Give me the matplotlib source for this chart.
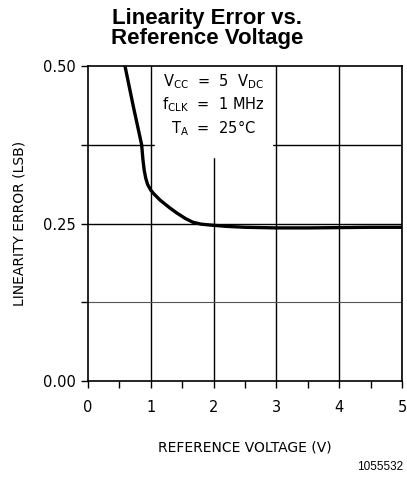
#Linearity error vs reference voltage
import numpy as np
import matplotlib.pyplot as plt

#data
vref = [0.59, 0.72, 0.855, 0.875, 0.895, 0.92, 0.95, 1.0, 1.05, 1.15, 1.3, 1.41, 1.55, 1.67, 1.8, 1.94, 2.2, 2.5, 3.0, 3.5, 4.0, 4.5, 5.0]
lin_err = [0.50, 0.437, 0.375, 0.352, 0.335, 0.322, 0.312, 0.303, 0.297, 0.287, 0.275, 0.267, 0.258, 0.252, 0.249, 0.2476, 0.2455, 0.244, 0.243, 0.243, 0.2435, 0.244, 0.244]

x_ticks = [0, 1, 2, 3, 4, 5]
y_ticks = [0.0, 0.25, 0.5]
y_labels = ['0.00', '0.25', '0.50']
conditions = [r'$\mathregular{V_{CC}}$  =  5  $\mathregular{V_{DC}}$',
              r'$\mathregular{f_{CLK}}$  =  1 MHz',
              r'$\mathregular{T_A}$  =  25$\mathregular{\degree}$C']

fig = plt.figure(figsize=(4.07, 4.79), dpi=100)
ax = fig.add_axes([0.216, 0.2046, 0.772, 0.6576])

#grid
for xv in x_ticks[1:]:
    ax.axvline(xv, color='black', lw=1.0, zorder=1)
ax.axhline(0.25, color='black', lw=1.0, zorder=1)
ax.axhline(0.375, color='black', lw=1.0, zorder=1)
ax.axhline(0.125, color='#555555', lw=0.8, zorder=1)

ax.plot(vref, lin_err, color='black', lw=2.4, zorder=3, solid_joinstyle='round')

ax.set_xlim(0, 5)
ax.set_ylim(0, 0.5)
ax.set_xticks(x_ticks)
ax.set_xticks([0.5, 1.5, 2.5, 3.5, 4.5], minor=True)
ax.set_yticks(y_ticks)
ax.set_yticklabels(y_labels)
ax.set_yticks([0.125, 0.375], minor=True)
ax.tick_params(which='both', direction='out', length=5, width=1, labelsize=10.5)
ax.tick_params(axis='x', pad=9)
for s in ax.spines.values():
    s.set_linewidth(1.2)

ax.set_xlabel('REFERENCE VOLTAGE (V)', fontsize=10, labelpad=18)
ax.set_ylabel('LINEARITY ERROR (LSB)', fontsize=10, labelpad=12)
ax.set_title('Linearity Error vs.\nReference Voltage', fontsize=16, fontweight='bold',
             family='Liberation Sans', pad=16, linespacing=0.95, x=0.379)

#condition box (white patch over the grid)
ax.fill_between([1.07, 2.93], 0.356, 0.5, color='white', zorder=2)
for i, txt in enumerate(conditions):
    ax.text(2.0, 0.475 - i * 0.037, txt, ha='center', va='center', fontsize=10.5, zorder=4)

fig.text(0.99, 0.012, '1055532', ha='right', va='bottom', fontsize=8.5, family='Liberation Sans')

fig.savefig('out.png', dpi=100)
